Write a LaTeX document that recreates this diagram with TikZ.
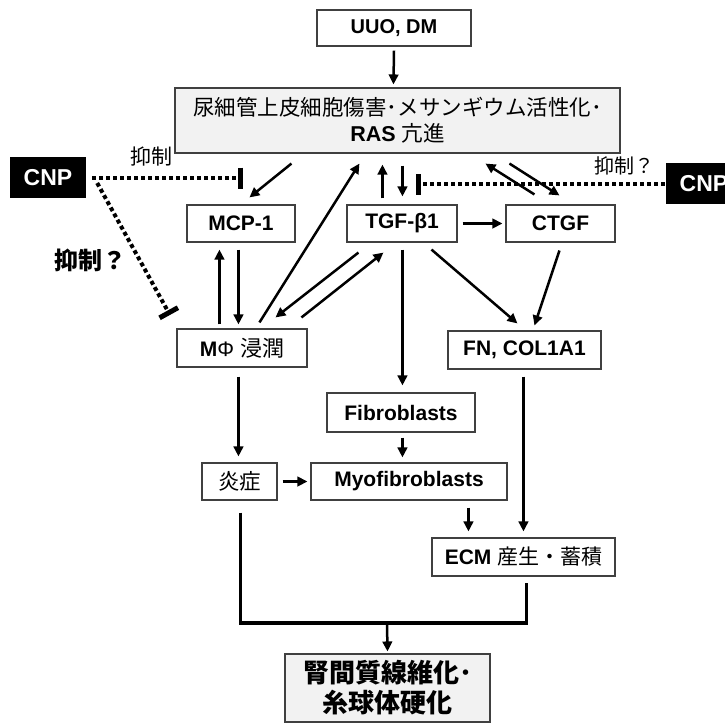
\documentclass[tikz,border=0pt]{standalone}
\usepackage{fontspec}
\setmainfont{Liberation Sans}
\newfontfamily\jp{Noto Sans CJK JP}
\usetikzlibrary{arrows.meta,calc}
\begin{document}
\begin{tikzpicture}[x=1pt,y=1pt,
  box/.style={draw=black!75, line width=1.1pt, fill=white, inner sep=0pt,
    minimum height=37pt, font=\fontsize{21}{24}\selectfont\bfseries},
  gbox/.style={box, fill=black!5, align=center},
  cnp/.style={fill=black, text=white, inner sep=0pt, minimum width=76pt,
    minimum height=41pt, font=\fontsize{23}{26}\selectfont\bfseries},
  arr/.style={line width=2.5pt, -{Triangle[length=10pt,width=9.5pt]}},
  inh/.style={line width=4pt, dash pattern=on 4pt off 3pt,
    -{Bar[width=21pt,line width=5pt]}},
  joinline/.style={line width=3.6pt},
  lbl/.style={inner sep=0pt}
]
\clip (0,0) rectangle (725,-724);
\fill[white] (0,0) rectangle (725,-724);

% nodes
\node[box, minimum width=154pt, minimum height=36pt, font=\fontsize{20}{24}\selectfont\bfseries] (uuo) at (394,-28) {UUO, DM};
\node[gbox, minimum width=445pt, minimum height=65pt, font=\fontsize{21.5}{26}\selectfont] (main) at (397.5,-120.5)
  {{\jp 尿細管上皮細胞傷害･メサンギウム活性化･}\\\textbf{RAS} {\jp 亢進}};
\node[box, minimum width=108pt] (mcp) at (241,-223.5) {MCP-1};
\node[box, minimum width=110pt] (tgf) at (402,-223.5) {TGF-β1};
\node[box, minimum width=109pt] (ctgf) at (560.5,-223.5) {CTGF};
\node[box, minimum width=130pt, minimum height=38pt] (mphi) at (242,-348) {M{\mdseries Φ} {\jp\mdseries\fontsize{22}{24}\selectfont 浸潤}};
\node[box, minimum width=153pt, minimum height=38pt] (fn) at (524.5,-350) {FN, COL1A1};
\node[box, minimum width=148pt, minimum height=39pt] (fib) at (401,-412.5) {Fibroblasts};
\node[box, minimum width=75pt] (inf) at (239.5,-481.5) {\jp\mdseries\fontsize{21.5}{24}\selectfont 炎症};
\node[box, minimum width=196pt] (myo) at (409,-481.5) {Myofibroblasts};
\node[box, minimum width=183pt, minimum height=38pt] (ecm) at (523.5,-557) {ECM {\jp\mdseries\fontsize{21}{24}\selectfont 産生・蓄積}};
\node[gbox, minimum width=205pt, minimum height=68pt, font=\jp\bfseries\fontsize{26}{30}\selectfont] (final) at (387.5,-688)
  {腎間質線維化･\\糸球体硬化};
\node[cnp] (cnpL) at (48,-177.5) {CNP};
\node[cnp] (cnpR) at (704,-183.5) {CNP};

% labels
\node[lbl, font=\jp\fontsize{21}{24}\selectfont] (labA) at (151,-157) {抑制};
\node[lbl, font=\jp\bfseries\fontsize{24}{26}\selectfont] (labB) at (90,-260) {抑制？};
\node[lbl, font=\jp\fontsize{20}{24}\selectfont] (labC) at (624,-166) {抑制？};

% arrows
\draw[arr] ($(uuo.south)+(0,-4)$) -- ($(main.north west)+(219,3)$);
\draw[arr] ($(main.south west)+(117,-10)$) -- ($(mcp.north west)+(63,7)$);
\draw[arr] ($(mphi.north west)+(83,6)$) -- ($(main.south west)+(185,-10)$);
\draw[arr] ($(tgf.north west)+(36,6)$) -- ($(main.south west)+(208,-11)$);
\draw[arr] ($(main.south west)+(228,-12)$) -- ($(tgf.north west)+(56,8)$);
\draw[arr] ($(ctgf.north west)+(29,10)$) -- ($(main.south west)+(311,-10)$);
\draw[arr] ($(main.south west)+(335,-10)$) -- ($(ctgf.north west)+(54,9)$);
\draw[arr] ($(tgf.east)+(5,0)$) -- ($(ctgf.west)+(-3,0)$);
\draw[arr] ($(mphi.north west)+(43,4)$) -- ($(mcp.south west)+(33,-7)$);
\draw[arr] ($(mcp.south west)+(52,-7)$) -- ($(mphi.north west)+(62,4)$);
\draw[arr] ($(tgf.south west)+(12,-10)$) -- ($(mphi.north west)+(99,11)$);
\draw[arr] ($(mphi.north west)+(125,11)$) -- ($(tgf.south west)+(37,-10)$);
\draw[arr] ($(tgf.south west)+(56,-7)$) -- ($(fib.north west)+(76,7)$);
\draw[arr] ($(tgf.south west)+(85,-7)$) -- ($(fn.north west)+(70,7)$);
\draw[arr] ($(ctgf.south west)+(54,-8)$) -- ($(fn.north west)+(87,5)$);
\draw[arr] ($(mphi.south west)+(62,-9)$) -- ($(inf.north west)+(37,6)$);
\draw[arr] ($(fib.south west)+(76,-5)$) -- ($(myo.north west)+(92,5)$);
\draw[arr] ($(inf.east)+(5,0)$) -- ($(myo.west)+(-3,0)$);
\draw[arr] ($(myo.south west)+(158,-7)$) -- ($(ecm.north west)+(37,6)$);
\draw[arr] ($(fn.south west)+(76,-7)$) -- ($(ecm.north west)+(92,6)$);

% join
\coordinate (ja) at ($(inf.south west)+(39,-12)$);
\coordinate (jb) at ($(ecm.south west)+(95,-6)$);
\coordinate (jm) at (387,-623);
\draw[joinline] (ja) -- (ja |- jm) -- (jb |- jm) -- (jb);
\draw[arr] (jm) -- ($(final.north)+(0,2)$);

% inhibitions
\draw[inh] ($(cnpL.east)+(6,-0.5)$) -- ($(cnpL.east)+(157,-0.5)$);
\draw[inh] ($(cnpR.west)+(-1,-0.5)$) -- ($(cnpR.west)+(-250,-0.5)$);
\draw[inh] ($(cnpL.east)+(11,-5.5)$) -- ($(mphi.north west)+(-6.5,13.5)$);
\end{tikzpicture}
\end{document}
